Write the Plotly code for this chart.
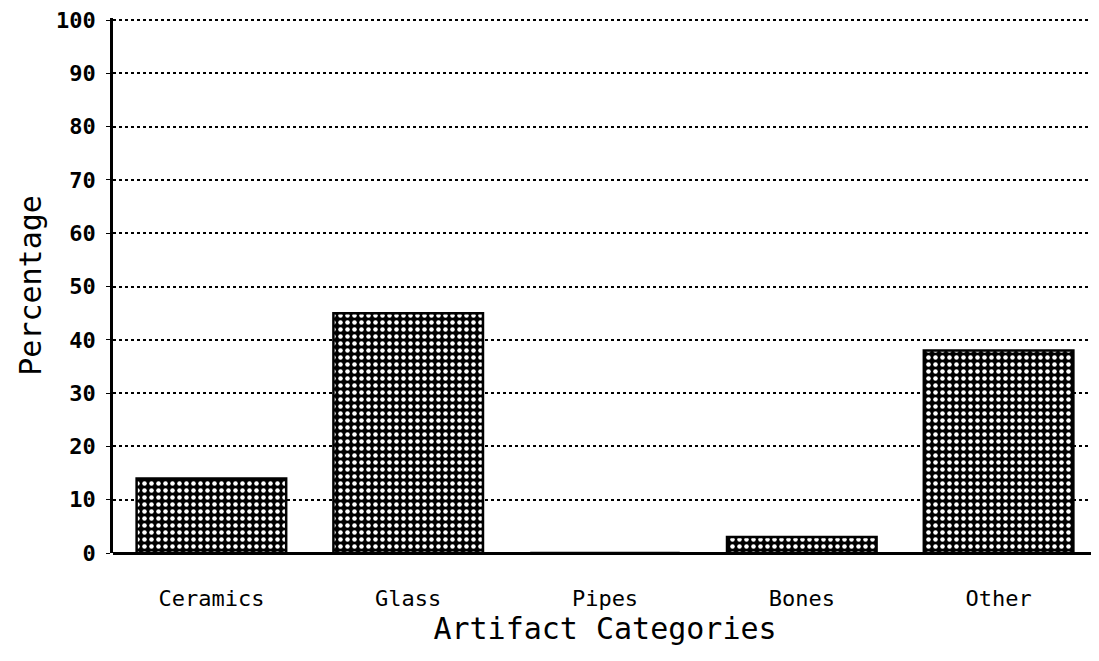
import plotly.graph_objects as go

categories = ["Ceramics", "Glass", "Pipes", "Bones", "Other"]
percentages = [14, 45, 0, 3, 38]
y_ticks = [0, 10, 20, 30, 40, 50, 60, 70, 80, 90, 100]

font_family = "DejaVu Sans Mono"

fig = go.Figure(
    go.Bar(
        x=categories,
        y=percentages,
        width=0.76,
        marker=dict(
            color="black",
            line=dict(color="black", width=2.5),
            pattern=dict(shape=".", fgcolor="white", bgcolor="black",
                         size=7, solidity=0.33, fillmode="replace"),
        ),
    )
)

fig.update_layout(
    width=1099,
    height=661,
    margin=dict(l=105, r=10, t=10, b=116, autoexpand=False),
    plot_bgcolor="white",
    paper_bgcolor="white",
    showlegend=False,
    font=dict(family=font_family, color="black"),
)

fig.update_xaxes(
    range=[-0.5, 4.5],
    automargin=False,
    showgrid=False,
    showline=False,
    zeroline=False,
    ticks="",
    ticklabelstandoff=30,
    tickfont=dict(size=22, family=font_family, color="black"),
    title=dict(text="Artifact Categories",
               font=dict(size=30, family=font_family, color="black"),
               standoff=6),
)

fig.update_yaxes(
    range=[0, 100.4],
    automargin=False,
    tickvals=y_ticks,
    ticktext=["<b>%d</b>" % v for v in y_ticks],
    ticklabeloverflow="allow",
    showgrid=True,
    gridcolor="black",
    griddash="dot",
    gridwidth=1.5,
    showline=True,
    linecolor="black",
    linewidth=2.5,
    zeroline=True,
    zerolinecolor="black",
    zerolinewidth=2.5,
    ticks="outside",
    ticklen=4,
    tickcolor="black",
    ticklabelstandoff=6,
    tickfont=dict(size=22, family=font_family, color="black"),
    title=dict(text="Percentage",
               font=dict(size=30, family=font_family, color="black"),
               standoff=6),
)

fig.write_html("out.html")
